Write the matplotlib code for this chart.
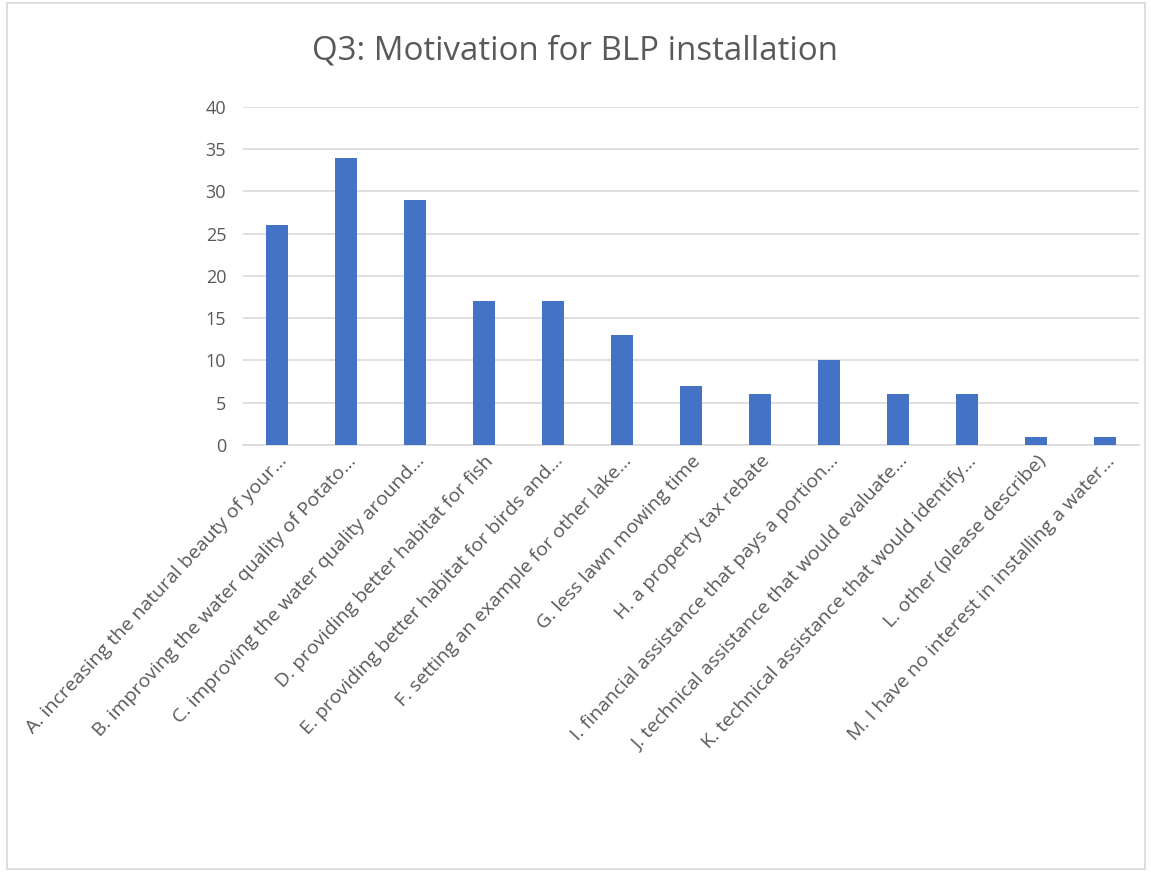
import matplotlib
matplotlib.use("Agg")
import matplotlib.pyplot as plt
from matplotlib.patches import Rectangle

categories = [
    "A. increasing the natural beauty of your...",
    "B. improving the water quality of Potato...",
    "C. improving the water quality around...",
    "D. providing better habitat for fish",
    "E. providing better habitat for birds and...",
    "F. setting an example for other lake...",
    "G. less lawn mowing time",
    "H. a property tax rebate",
    "I. financial assistance that pays a portion...",
    "J. technical assistance that would evaluate...",
    "K. technical assistance that would identify...",
    "L. other (please describe)",
    "M. I have no interest in installing a water...",
]
counts = [26, 34, 29, 17, 17, 13, 7, 6, 10, 6, 6, 1, 1]
yticks = [0, 5, 10, 15, 20, 25, 30, 35, 40]

plt.rcParams['font.family'] = ['Open Sans', 'DejaVu Sans']
text_col = "#595959"

fig = plt.figure(figsize=(11.51, 8.72), dpi=100)
ax = fig.add_axes([0.211, 0.4897, 0.779, 0.3876])

x = range(len(categories))
ax.bar(x, counts, width=0.32, color="#4472C4", zorder=3)

ax.set_xlim(-0.5, len(categories) - 0.5)
ax.set_ylim(0, 40)
ax.set_yticks(yticks)
ax.set_yticklabels([str(v) for v in yticks], fontsize=13, color=text_col)
ax.set_xticks(list(x))
ax.set_xticklabels(categories, rotation=47, ha="right", rotation_mode="anchor",
                   fontsize=14, color=text_col)
ax.tick_params(axis="both", length=0)
ax.tick_params(axis="y", pad=12)
ax.tick_params(axis="x", pad=5)

ax.grid(axis="y", color="#D9D9D9", linewidth=1.2, zorder=0)
for s in ["top", "right", "left"]:
    ax.spines[s].set_visible(False)
ax.spines["bottom"].set_color("#D9D9D9")
ax.spines["bottom"].set_linewidth(1.2)

fig.text(0.5, 0.942, "Q3: Motivation for BLP installation", ha="center", va="center",
         fontsize=23.8, color=text_col)

fig.patches.append(Rectangle((0.006, 0.003), 0.989, 0.994, transform=fig.transFigure,
                             fill=False, edgecolor="#D9D9D9", linewidth=1.2))

fig.savefig("out.png", dpi=100)
